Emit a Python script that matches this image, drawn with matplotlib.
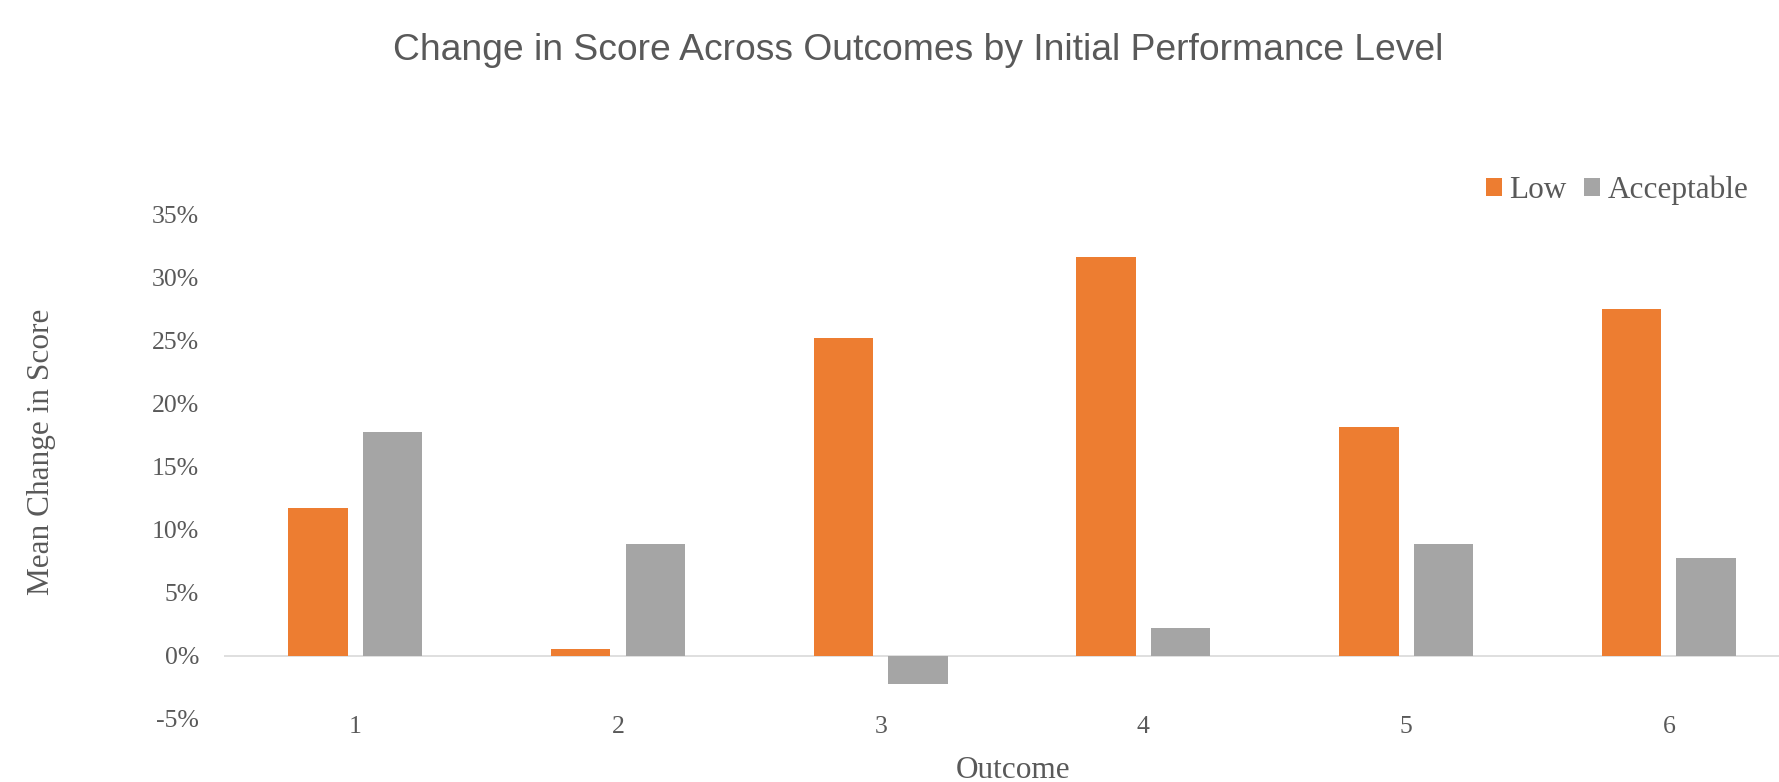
import matplotlib
matplotlib.use("Agg")
import matplotlib.pyplot as plt
import numpy as np

# data
outcomes = ["1", "2", "3", "4", "5", "6"]
low = [11.7, 0.56, 25.15, 31.57, 18.1, 27.47]
acceptable = [17.76, 8.87, -2.24, 2.19, 8.87, 7.73]
series_names = ["Low", "Acceptable"]
colors = ["#ED7D31", "#A5A5A5"]

text_color = "#595959"
serif = "Liberation Serif"

fig = plt.figure(figsize=(17.79, 7.82), dpi=100)
ax = fig.add_axes([0.1259, 0.0806, 0.886, 0.6457])

x = np.arange(len(outcomes))
width = 0.226
offset = 0.142
ax.bar(x - offset, np.array(low) / 100, width, color=colors[0], label=series_names[0])
ax.bar(x + offset, np.array(acceptable) / 100, width, color=colors[1], label=series_names[1])

ax.set_xlim(-0.5, len(outcomes) - 0.5)
ax.set_ylim(-0.05, 0.35)
ax.axhline(0, color="#D9D9D9", linewidth=1.2, zorder=0)

ax.set_yticks(np.arange(-0.05, 0.351, 0.05))
ax.set_yticklabels([f"{v:.0f}%" for v in np.arange(-5, 36, 5)])
ax.set_xticks(x)
ax.set_xticklabels(outcomes)
ax.tick_params(axis="y", length=0, pad=18, labelsize=18.5, labelcolor=text_color)
ax.tick_params(axis="x", length=0, pad=-2, labelsize=18.5, labelcolor=text_color)
for lbl in ax.get_xticklabels() + ax.get_yticklabels():
    lbl.set_fontfamily(serif)
for s in ax.spines.values():
    s.set_visible(False)

fig.text(0.516, 0.935, "Change in Score Across Outcomes by Initial Performance Level",
         ha="center", va="center", fontsize=26.8, color=text_color,
         fontfamily="Liberation Sans")
fig.text(0.0235, 0.422, "Mean Change in Score", rotation=90, ha="center", va="center",
         fontsize=22.5, color=text_color, fontfamily=serif)
fig.text(0.5695, 0.005, "Outcome", ha="center", va="baseline",
         fontsize=22.5, color=text_color, fontfamily=serif)

leg = fig.legend(loc="center left", bbox_to_anchor=(0.8353, 0.757), ncol=2,
                 frameon=False, borderpad=0, borderaxespad=0,
                 handlelength=0.5, handleheight=0.5, handletextpad=0.25,
                 columnspacing=0.55, prop={"family": serif, "size": 22.5})
for t in leg.get_texts():
    t.set_color(text_color)

fig.savefig("out.png", dpi=100)
